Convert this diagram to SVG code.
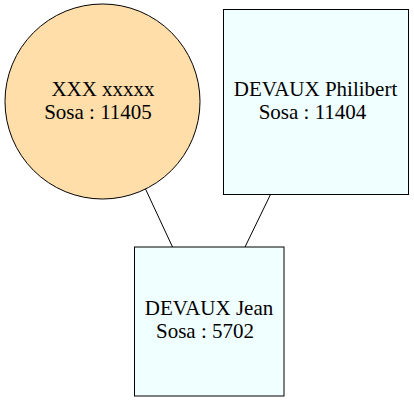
<svg xmlns="http://www.w3.org/2000/svg" width="414" height="402" viewBox="0 0 414 402">
<style>
text{font-family:"Liberation Serif","Times New Roman",serif;font-size:21px;fill:#000;text-anchor:middle}
.box{fill:#F0FFFF;stroke:#000;stroke-width:1}
.edge{stroke:#000;stroke-width:1;fill:none}
</style>
<rect width="414" height="402" fill="#fff"/>
<g id="connectors">
<line class="edge" x1="145.5" y1="189" x2="172.5" y2="247"/>
<line class="edge" x1="270.5" y1="194.5" x2="245" y2="247"/>
</g>
<g id="n11405">
<circle cx="102.5" cy="101.5" r="97.5" fill="#FFDEAA" stroke="#000"/>
<text x="103" y="96">XXX xxxxx</text>
<text x="98" y="119">Sosa : 11405</text>
</g>
<g id="n11404">
<rect class="box" x="223.5" y="9.5" width="185" height="185"/>
<text x="315.5" y="96">DEVAUX Philibert</text>
<text x="312.5" y="119">Sosa : 11404</text>
</g>
<g id="n5702">
<rect class="box" x="134.5" y="247" width="149.5" height="149"/>
<text x="209" y="315">DEVAUX Jean</text>
<text x="205" y="338">Sosa : 5702</text>
</g>
</svg>
